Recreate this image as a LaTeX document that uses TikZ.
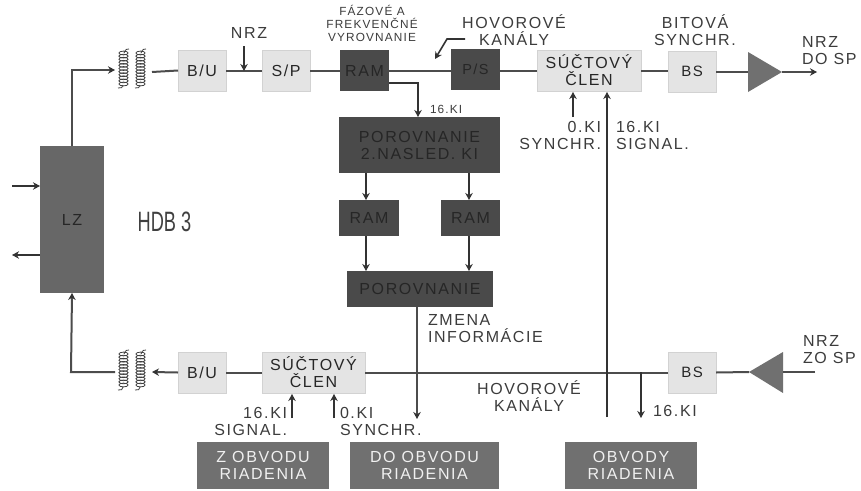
\documentclass[tikz,border=0pt]{standalone}
\usepackage{fontspec}
\setmainfont{Liberation Sans}
\newfontfamily\spaced[LetterSpace=10]{Liberation Sans}
\usetikzlibrary{arrows.meta}
\definecolor{lightbox}{HTML}{E4E4E4}
\definecolor{lightedge}{HTML}{D2D2D2}
\definecolor{darkbox}{HTML}{4A4A4A}
\definecolor{midbox}{HTML}{707070}
\definecolor{linegrey}{HTML}{4C4C4C}
\definecolor{labelgrey}{HTML}{3C3C3C}
\tikzset{
  lightnode/.style={fill=lightbox,draw=lightedge,line width=.8pt,text=black!85},
  darknode/.style={fill=darkbox,draw=none,text=black!85},
  midnode/.style={fill=midbox,draw=none,text=black!6!white},
  lznode/.style={fill=midbox!92!black,draw=none,text=black!85},
  lab/.style={text=labelgrey,inner sep=0pt,outer sep=0pt,font=\spaced\fontsize{16}{17}\selectfont,align=center},
  labl/.style={lab,anchor=west,align=left},
  labr/.style={lab,anchor=east,align=right},
  tiny/.style={lab,font=\spaced\fontsize{11.8}{13}\selectfont},
  wire/.style={draw=linegrey,line width=2pt},
  arrow/.style={draw=black!80,line width=1.6pt,-{Stealth[length=7pt,width=7.5pt]}},
  arrowthick/.style={draw=linegrey,line width=2pt,-{Stealth[length=7pt,width=7.5pt,black!80]}},
  coilline/.style={draw=black!75,line width=.8pt}
}
\newcommand{\bx}[7]{\node[#6,inner sep=0pt,outer sep=0pt,align=center,
  font=\spaced\fontsize{16}{17}\selectfont,
  minimum width={(#4-#2)*1pt},minimum height={(#5-#3)*1pt}]
  (#1) at ({(#2+#4)/2},{(#3+#5)/2}) {#7};}
\newcommand{\coil}[2]{%
  \foreach \k in {0,...,10}{\draw[coilline] (#1,{#2+4+\k*3.1}) ellipse (4.6pt and 1.9pt);}}
\begin{document}
\begin{tikzpicture}[x=1pt,y=-1pt]
\useasboundingbox (0,0) rectangle (861,490);
\fill[white] (0,0) rectangle (861,490);

% boxes
\bx{buT}{178}{50}{226}{91}{lightnode}{B/U}
\bx{sp}{262}{50}{310}{91}{lightnode}{S/P}
\bx{ramT}{340}{50}{389}{91}{darknode}{RAM}
\bx{ps}{451}{49}{500}{90}{darknode}{\fontsize{14.5}{17}\selectfont P/S}
\bx{sumT}{537}{50}{641}{91}{lightnode}{SÚČTOVÝ\\ČLEN}
\bx{bsT}{668}{51}{716}{92}{lightnode}{\fontsize{15}{17}\selectfont BS}
\bx{lz}{40}{146}{104}{293}{lznode}{\fontsize{16}{17}\selectfont LZ}
\bx{cmpA}{339}{117}{500}{173}{darknode}{POROVNANIE\\2.NASLED. KI}
\bx{ramL}{339}{200}{399}{236}{darknode}{RAM}
\bx{ramR}{441}{200}{500}{236}{darknode}{RAM}
\bx{cmpB}{347}{271}{493}{307}{darknode}{POROVNANIE}
\bx{buB}{178}{352}{226}{393}{lightnode}{B/U}
\bx{sumB}{262}{352}{365}{393}{lightnode}{SÚČTOVÝ\\ČLEN}
\bx{bsB}{668}{352}{716}{393}{lightnode}{\fontsize{15}{17}\selectfont BS}
\bx{zob}{197}{442}{329}{489}{midnode}{Z OBVODU\\RIADENIA}
\bx{dob}{350}{442}{499}{489}{midnode}{DO OBVODU\\RIADENIA}
\bx{obv}{565}{442}{697}{489}{midnode}{OBVODY\\RIADENIA}

% transformers
\coil{123.5}{49}
\coil{140.5}{49}
\draw[coilline] (129,49) .. controls (125,49) and (125,51) .. (124,53);
\draw[coilline] (118,88) .. controls (121,88) and (123,88) .. (123,85);
\draw[coilline] (146,49) .. controls (142,49) and (142,51) .. (141,53);
\draw[coilline] (135,88) .. controls (138,88) and (140,88) .. (140,85);
\coil{123.5}{350}
\coil{140.5}{350}
\draw[coilline] (129,350) .. controls (125,350) and (125,352) .. (124,354);
\draw[coilline] (118,390) .. controls (121,390) and (123,390) .. (123,387);
\draw[coilline] (146,350) .. controls (142,350) and (142,352) .. (141,354);
\draw[coilline] (135,390) .. controls (138,390) and (140,390) .. (140,387);
\coordinate (trTin) at (115,70);
\coordinate (trTout) at (152,72);
\coordinate (trBin) at (152,372);
\coordinate (trBout) at (115,372);

% triangles
\fill[midbox] (748,52) -- (782,72) -- (748,92) -- cycle;
\fill[midbox] (783,352) -- (749,372) -- (783,393) -- cycle;
\coordinate (triTin) at (748,72);
\coordinate (triTout) at (782,72);
\coordinate (triBin) at (783,372);
\coordinate (triBout) at (749,372);

% free ends
\coordinate (nrzOut) at (817,72);
\coordinate (nrzIn) at (815,372);
\coordinate (nrzTop) at (244,46);
\coordinate (nrzHit) at (244,71);
\coordinate (inA) at (12,186);
\coordinate (lzA) at (40,186);
\coordinate (lzB) at (40,255);
\coordinate (outB) at (12,255);
\coordinate (ramTap) at (389,83);
\coordinate (ramTurn) at (418,83);
\coordinate (ramDown) at (418,117);
\coordinate (hk1) at (465,39);
\coordinate (hk2) at (447,39);
\coordinate (hk3) at (435,59);
\coordinate (s0a) at (573,117);
\coordinate (s0b) at (573,92);
\coordinate (s16a) at (607,417);
\coordinate (s16b) at (607,92);
\coordinate (zinfo) at (417,419);
\coordinate (b16j) at (641,372);
\coordinate (b16e) at (641,418);
\coordinate (b16a) at (292,418);
\coordinate (b16b) at (292,394);
\coordinate (b0a) at (334,418);
\coordinate (b0b) at (334,394);
\coordinate (cl1) at (366,173);
\coordinate (cl2) at (366,200);
\coordinate (cl3) at (366,236);
\coordinate (cl4) at (366,271);
\coordinate (cr1) at (469,173);
\coordinate (cr2) at (469,200);
\coordinate (cr3) at (469,236);
\coordinate (cr4) at (469,271);
\coordinate (lzTurn) at (71,372);

% wires, top row
\draw[arrowthick] (lz.north) |- (trTin);
\draw[wire] (trTout) -- (buT.west);
\draw[wire] (buT.east) -- (sp.west);
\draw[wire] (sp.east) -- (ramT.west);
\draw[wire] (ramT.east) -- (ps.west |- ramT.east);
\draw[wire] (ps.east |- sumT.west) -- (sumT.west);
\draw[wire] (sumT.east) -- (bsT.west |- sumT.east);
\draw[wire] (bsT.east |- triTin) -- (triTin);
\draw[arrowthick] (triTout) -- (nrzOut);
\draw[arrow] (nrzTop) -- (nrzHit);
\draw[arrow] (ramTap) -- (ramTurn) -- (ramDown);
\draw[arrow] (hk1) -- (hk2) -- (hk3);
\draw[arrow] (s0a) -- (s0b);

% left side
\draw[arrow] (inA) -- (lzA);
\draw[arrow] (lzB) -- (outB);
\draw[arrowthick] (trBout) -- (lzTurn) -- (lz.south);

% centre
\draw[arrow] (cl1) -- (cl2);
\draw[arrow] (cr1) -- (cr2);
\draw[arrow] (cl3) -- (cl4);
\draw[arrow] (cr3) -- (cr4);
\draw[arrowthick] (cmpB.south -| zinfo) -- (zinfo);

% wires, bottom row
\draw[arrowthick] (buB.west) -- (trBin);
\draw[wire] (sumB.west) -- (buB.east);
\draw[wire] (bsB.west) -- (sumB.east);
\draw[wire] (triBout) -- (bsB.east);
\draw[wire] (nrzIn) -- (triBin);
\draw[arrow] (s16a) -- (s16b);
\draw[arrow] (b16j) -- (b16e);
\draw[arrow] (b16a) -- (b16b);
\draw[arrow] (b0a) -- (b0b);

% labels
\node[lab] (lNrz) at (249,33) {NRZ};
\node[tiny] (lFaz) at (372,23) {FÁZOVÉ A\\FREKVENČNÉ\\VYROVNANIE};
\node[lab] (lHovT) at (514,30) {HOVOROVÉ\\KANÁLY};
\node[lab] (lBit) at (695,30.5) {BITOVÁ\\SYNCHR.};
\node[labl] (lDo) at (802,50.5) {NRZ\\DO SP};
\node[labl] (lZo) at (803,350) {NRZ\\ZO SP};
\node[tiny,anchor=west] (l16a) at (430,109) {16.KI};
\node[labr] (l0T) at (601,135.5) {0.KI\\SYNCHR.};
\node[labl] (l16T) at (616,135.5) {16.KI\\SIGNAL.};
\node[labl] (lZm) at (428,329) {ZMENA\\INFORMÁCIE};
\node[lab] (lHovB) at (529,396) {HOVOROVÉ\\KANÁLY};
\node[labl] (l16B) at (653,411) {16.KI};
\node[labr] (l16S) at (287,421.5) {16.KI\\SIGNAL.};
\node[labl] (l0S) at (340,421.5) {0.KI\\SYNCHR.};
\node[inner sep=0pt,text=black!75,font=\fontsize{28}{28}\selectfont] (hdb) at (164.5,222) {\scalebox{.65}[1]{HDB 3}};
\end{tikzpicture}
\end{document}
